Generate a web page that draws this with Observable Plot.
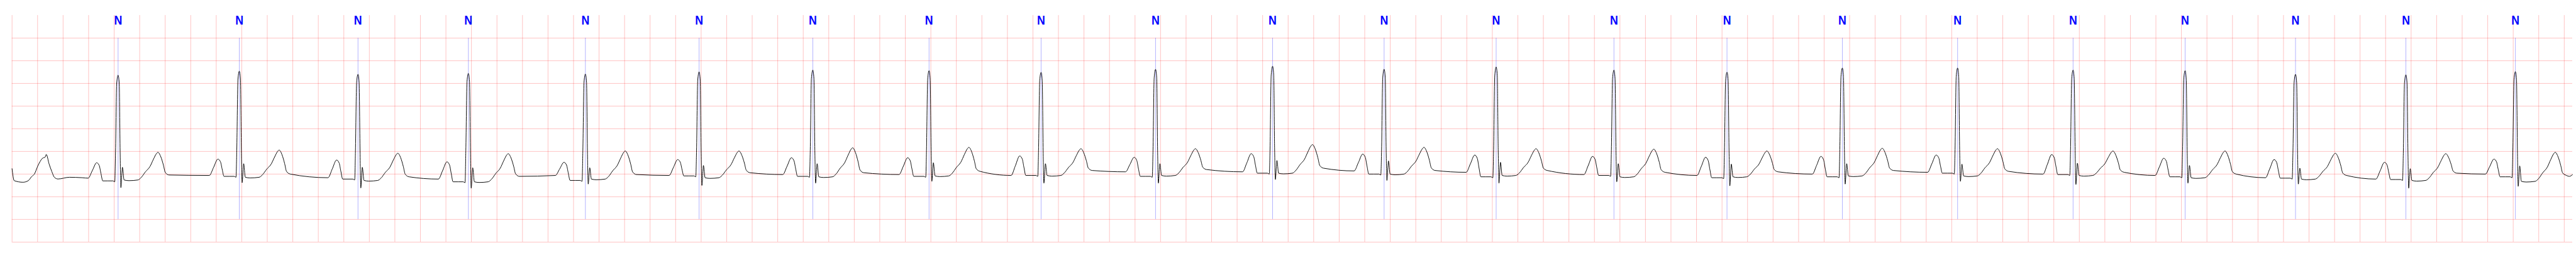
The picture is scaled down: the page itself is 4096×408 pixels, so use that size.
<!DOCTYPE html>
<html>
<head>
<meta charset="utf-8">
<script src="https://cdn.jsdelivr.net/npm/d3@7"></script>
<script src="https://cdn.jsdelivr.net/npm/@observablehq/plot@0.6"></script>
<style>
html,body{margin:0;padding:0;background:#fff;overflow:hidden}
#chart svg{display:block}
</style>
</head>
<body>
<div id="chart"></div>
<script>
// ---- Data (time in s, amplitude in mV) ----
const beatTimes = [0.831, 1.781, 2.711, 3.576, 4.493, 5.384, 6.275, 7.186, 8.064, 8.961, 9.878,
  10.752, 11.630, 12.553, 13.439, 14.343, 15.246, 16.151, 17.029, 17.894, 18.759, 19.617];
const beatLabels = ["N","N","N","N","N","N","N","N","N","N","N","N","N","N","N","N","N","N","N","N","N","N"];
const rAmp  = [2.18, 2.27, 2.20, 2.22, 2.205, 2.254, 2.293, 2.28, 2.244, 2.31, 2.378,
  2.313, 2.362, 2.293, 2.247, 2.339, 2.339, 2.293, 2.28, 2.20, 2.19, 2.26];
const sAmp  = [-0.30, -0.19, -0.305, -0.31, -0.22, -0.25, -0.20, -0.16, -0.20, -0.20, -0.12,
  -0.14, -0.20, -0.17, -0.26, -0.22, -0.16, -0.23, -0.20, -0.22, -0.31, -0.27];
const rPrimeAmp = [0.15, 0.23, 0.15, 0.14, 0.14, 0.19, 0.23, 0.25, 0.23, 0.23, 0.30,
  0.29, 0.26, 0.23, 0.22, 0.23, 0.22, 0.24, 0.19, 0.13, 0.12, 0.18];
const pAmp  = [0.25, 0.33, 0.31, 0.27, 0.26, 0.32, 0.36, 0.36, 0.40, 0.37, 0.45,
  0.44, 0.42, 0.39, 0.37, 0.39, 0.42, 0.43, 0.35, 0.32, 0.26, 0.33];
const tAmp  = [0.48, 0.53, 0.46, 0.45, 0.51, 0.51, 0.58, 0.59, 0.56, 0.56, 0.65,
  0.59, 0.56, 0.55, 0.51, 0.57, 0.56, 0.51, 0.51, 0.46, 0.45, 0.48];
const prLevel = [-0.15, -0.05, -0.11, -0.17, -0.14, -0.04, -0.05, -0.05, -0.03, -0.05, 0.02,
  0.00, -0.06, -0.03, -0.08, -0.06, 0.02, -0.01, -0.06, -0.09, -0.12, -0.06];
const stLevel = [-0.13, -0.07, -0.14, -0.17, -0.11, -0.08, -0.06, -0.04, -0.03, -0.03, 0.02,
  0.00, -0.03, -0.06, -0.06, -0.04, -0.04, -0.03, -0.08, -0.11, -0.14, -0.16];
const prePLevel = [-0.09, -0.03, -0.08, -0.11, -0.03, -0.03, -0.01, -0.01, -0.03, 0.05, 0.05,
  0.07, 0.04, -0.01, -0.03, 0.00, 0.04, 0.00, -0.03, -0.08, -0.11, 0.00];
const postTLevel = [-0.02, 0.00, -0.06, -0.05, -0.01, 0.03, 0.03, 0.06, 0.08, 0.10, 0.13,
  0.08, 0.08, 0.04, 0.05, 0.08, 0.06, 0.04, 0.00, -0.03, 0.02, -0.03];

// beat shape read from the first beat (offsets from the R peak, s)
const pOffsets = [-0.235, -0.202, -0.168, -0.148, -0.134, -0.120];
const pFractions = [0, 0.49, 1, 0.85, 0.40, 0];
const qrsOffsets = [-0.080, -0.040, -0.026, -0.020, -0.011, 0, 0.009, 0.016, 0.022, 0.034, 0.047, 0.085, 0.155];
const tOffsets = [0.181, 0.215, 0.249, 0.277, 0.300, 0.312, 0.335, 0.355, 0.370, 0.400];
const tFractions = [0.09, 0.30, 0.48, 0.75, 0.95, 1, 0.80, 0.44, 0.11, 0];

// trace before the first annotated beat, and after the last one
const leadTimes = [0, 0.017, 0.086, 0.127, 0.154, 0.175, 0.202, 0.236, 0.261, 0.268, 0.291, 0.312, 0.332, 0.36, 0.45, 0.55];
const leadValues = [0.12, -0.145, -0.18, -0.145, -0.054, 0.0, 0.18, 0.343, 0.38, 0.434, 0.217, 0.054, -0.072, -0.108, -0.07, -0.08];
const tailTimes = [20.040, 20.065];
const tailValues = [-0.05, -0.01];

const tMax = 20.065;

// ---- build the trace table ----
const ecg = [];
leadTimes.forEach((t, i) => ecg.push({t, v: leadValues[i]}));
beatTimes.forEach((r, i) => {
  const pre = prePLevel[i], pr = prLevel[i], P = pAmp[i];
  pOffsets.forEach((o, k) => {
    const base = k <= 2 ? pre : pr;
    ecg.push({t: r + o, v: base + pFractions[k] * (P - base)});
  });
  const R = rAmp[i], S = sAmp[i], st = stLevel[i];
  const qrsValues = [pr, pr, pr - 0.02, 0.23 * R, 0.92 * R, R, 0.92 * R, 0.23 * R, S, rPrimeAmp[i], st, st - 0.015, st];
  qrsOffsets.forEach((o, k) => ecg.push({t: r + o, v: qrsValues[k]}));
  const T = tAmp[i], post = postTLevel[i];
  tOffsets.forEach((o, k) => {
    const base = k <= 5 ? st : post;
    ecg.push({t: r + o, v: base + tFractions[k] * (T - base)});
  });
});
tailTimes.forEach((t, i) => ecg.push({t, v: tailValues[i]}));

const vGrid = d3.range(0, 20.0001, 0.2);
const hGrid = d3.range(-1.5, 3.0001, 0.5);

const S = 0.544;
const chart = Plot.plot({
  width: 4096,
  height: 408,
  marginLeft: 34.3 * S,
  marginRight: 11 * S,
  marginTop: 44 * S,
  marginBottom: 44.4 * S,
  x: {domain: [0, tMax], axis: null},
  y: {domain: [-1.5, 3.5], axis: null},
  style: {background: "#fff"},
  marks: [
    Plot.ruleX(vGrid, {x: d => d, y1: -1.5, y2: 3.5, stroke: "red", strokeOpacity: 0.27, strokeWidth: 0.9}),
    Plot.ruleY(hGrid, {y: d => d, x1: 0, x2: tMax, stroke: "red", strokeOpacity: 0.27, strokeWidth: 0.9}),
    Plot.ruleX(beatTimes, {x: d => d, y1: -1.0, y2: 3.0, stroke: "blue", strokeOpacity: 0.5, strokeWidth: 0.6}),
    Plot.line(ecg, {x: "t", y: "v", stroke: "black", strokeWidth: 0.95, curve: "monotone-x"}),
    Plot.text(beatTimes, {x: d => d, y: 3.5, text: (d, i) => beatLabels[i], fill: "blue",
      fontSize: 21, fontWeight: "bold", fontFamily: "Liberation Sans, Arial, sans-serif",
      textAnchor: "middle", lineAnchor: "top"})
  ]
});
// narrow the label glyphs to the reference's proportions
chart.querySelectorAll('g[aria-label="text"] text').forEach(el => {
  el.setAttribute("textLength", 12.8);
  el.setAttribute("lengthAdjust", "spacingAndGlyphs");
});
document.getElementById("chart").appendChild(chart);
</script>
</body>
</html>
